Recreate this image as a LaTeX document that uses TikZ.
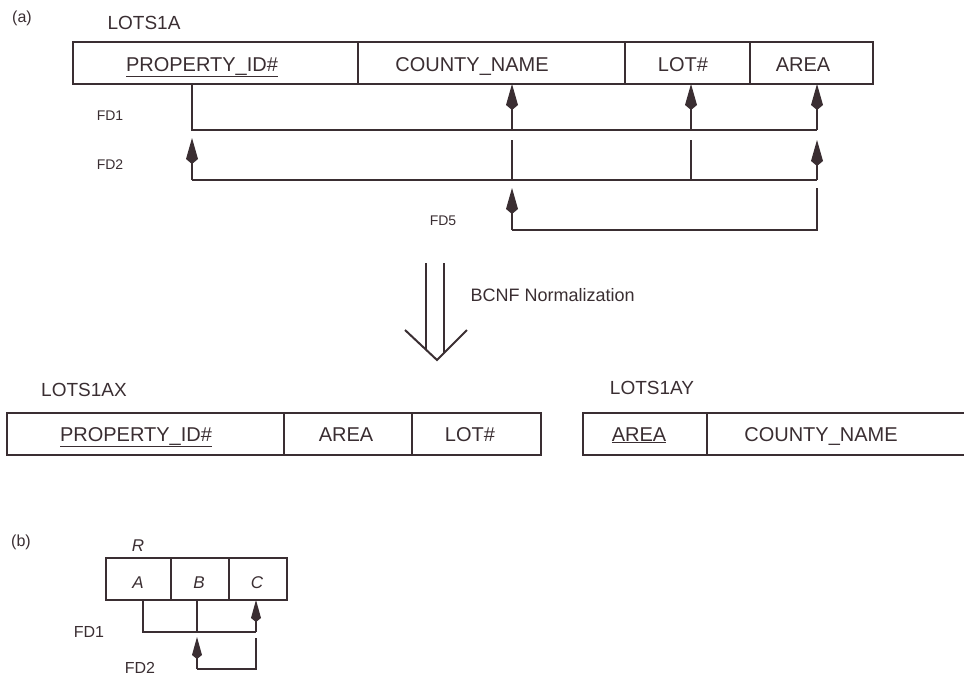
\documentclass[tikz,border=0pt]{standalone}
\usepackage{fontspec}
\setmainfont{Liberation Sans}
\usepackage{tikz}
\usetikzlibrary{positioning, arrows.meta}
\definecolor{ink}{RGB}{58,46,50}

\begin{document}
\begin{tikzpicture}[x=1pt, y=-1pt, line width=1.2pt, color=ink,
    attr/.style={anchor=base, inner sep=0pt, font=\fontsize{20}{24}\selectfont},
    relname/.style={inner sep=0pt, font=\fontsize{19}{22}\selectfont},
    fdlabel/.style={inner sep=0pt, font=\fontsize{14}{16}\selectfont},
    fdarrow/.style={-{Kite[length=26pt, width=12pt, inset=5pt]}},
    fdsmall/.style={-{Kite[length=22pt, width=10pt, inset=4pt]}}]
    \useasboundingbox (0,0) rectangle (964,675);

    % Part (a): LOTS1A
    \node[inner sep=0pt, font=\fontsize{16}{18}\selectfont] (parta) at (22,18) {(a)};
    \node[relname] (lotsa) at (144,23) {LOTS1A};
    \draw (73,42) rectangle (873,84);
    \draw (358,42) -- (358,84) (625,42) -- (625,84) (750,42) -- (750,84);
    \node[attr] (pid) at (202,71) {\underline{PROPERTY\_ID\#}};
    \node[attr] (cname) at (472,71) {COUNTY\_NAME};
    \node[attr] (lot) at (683,71) {LOT\#};
    \node[attr] (area) at (803,71) {AREA};

    % Attribute feet
    \coordinate (pidF) at (192,84);
    \coordinate (cnF) at (512,84);
    \coordinate (lotF) at (691,84);
    \coordinate (arF) at (817,84);

    % FD1
    \coordinate (fdoneR) at (817,130);
    \draw (pidF) |- (fdoneR);
    \draw[fdarrow] (cnF |- fdoneR) -- (cnF);
    \draw[fdarrow] (lotF |- fdoneR) -- (lotF);
    \draw[fdarrow] (fdoneR) -- (arF);
    \node[fdlabel] (fdone) at (110,116) {FD1};

    % FD2
    \coordinate (fdtwoL) at (192,180);
    \coordinate (fdtwoR) at (817,180);
    \draw (fdtwoL) -- (fdtwoR);
    \draw[fdarrow] (fdtwoL) -- (192,138);
    \draw (512,140) -- (cnF |- fdtwoL);
    \draw (691,140) -- (lotF |- fdtwoL);
    \draw[fdarrow] (fdtwoR) -- (817,140);
    \node[fdlabel] (fdtwo) at (110,165) {FD2};

    % FD5
    \coordinate (fdfiveL) at (512,230);
    \coordinate (fdfiveT) at (817,188);
    \draw (fdfiveT) |- (fdfiveL);
    \draw[fdarrow] (fdfiveL) -- (512,188);
    \node[fdlabel] (fdfive) at (443,221) {FD5};

    % Normalization arrow
    \draw[line width=1.5pt] (426,263) -- (426,350) (444,263) -- (444,353);
    \draw[line width=2pt] (405,330) -- (437,360) -- (467,330);
    \node[anchor=west, inner sep=0pt, font=\fontsize{18}{20}\selectfont] (bcnf) at (470,295) {BCNF Normalization};

    % LOTS1AX
    \node[relname] (lotsax) at (84,390) {LOTS1AX};
    \draw (7,413) rectangle (541,455);
    \draw (284,413) -- (284,455) (412,413) -- (412,455);
    \node[attr] (pidx) at (136,441) {\underline{PROPERTY\_ID\#}};
    \node[attr] (areax) at (346,441) {AREA};
    \node[attr] (lotx) at (470,441) {LOT\#};

    % LOTS1AY
    \node[relname] (lotsay) at (652,388) {LOTS1AY};
    \draw (970,413) -- (583,413) -- (583,455) -- (970,455);
    \draw (707,413) -- (707,455);
    \node[attr] (areay) at (639,441) {\underline{AREA}};
    \node[attr] (cnamey) at (821,441) {COUNTY\_NAME};

    % Part (b): R
    \node[inner sep=0pt, font=\fontsize{16}{18}\selectfont] (partb) at (21,542) {(b)};
    \node[inner sep=0pt, font=\fontsize{17}{20}\itshape] (relr) at (138,546) {R};
    \draw (106,558) rectangle (287,600);
    \draw (171,558) -- (171,600) (229,558) -- (229,600);
    \node[attr, font=\fontsize{17}{20}\itshape] (atta) at (138,588) {A};
    \node[attr, font=\fontsize{17}{20}\itshape] (attb) at (199,588) {B};
    \node[attr, font=\fontsize{17}{20}\itshape] (attc) at (257,588) {C};

    \coordinate (aF) at (143,600);
    \coordinate (bF) at (197,600);
    \coordinate (cF) at (256,600);

    % FD1 of R
    \coordinate (rfdoneR) at (256,632);
    \draw (aF) |- (rfdoneR);
    \draw (bF) -- (bF |- rfdoneR);
    \draw[fdsmall] (rfdoneR) -- (cF);
    \node[fdlabel, font=\fontsize{16}{18}\selectfont] (rfdone) at (89,632) {FD1};

    % FD2 of R
    \coordinate (rfdtwoL) at (197,669);
    \draw (256,638) |- (rfdtwoL);
    \draw[fdsmall] (rfdtwoL) -- (197,637);
    \node[fdlabel, font=\fontsize{16}{18}\selectfont] (rfdtwo) at (140,668) {FD2};
\end{tikzpicture}
\end{document}
